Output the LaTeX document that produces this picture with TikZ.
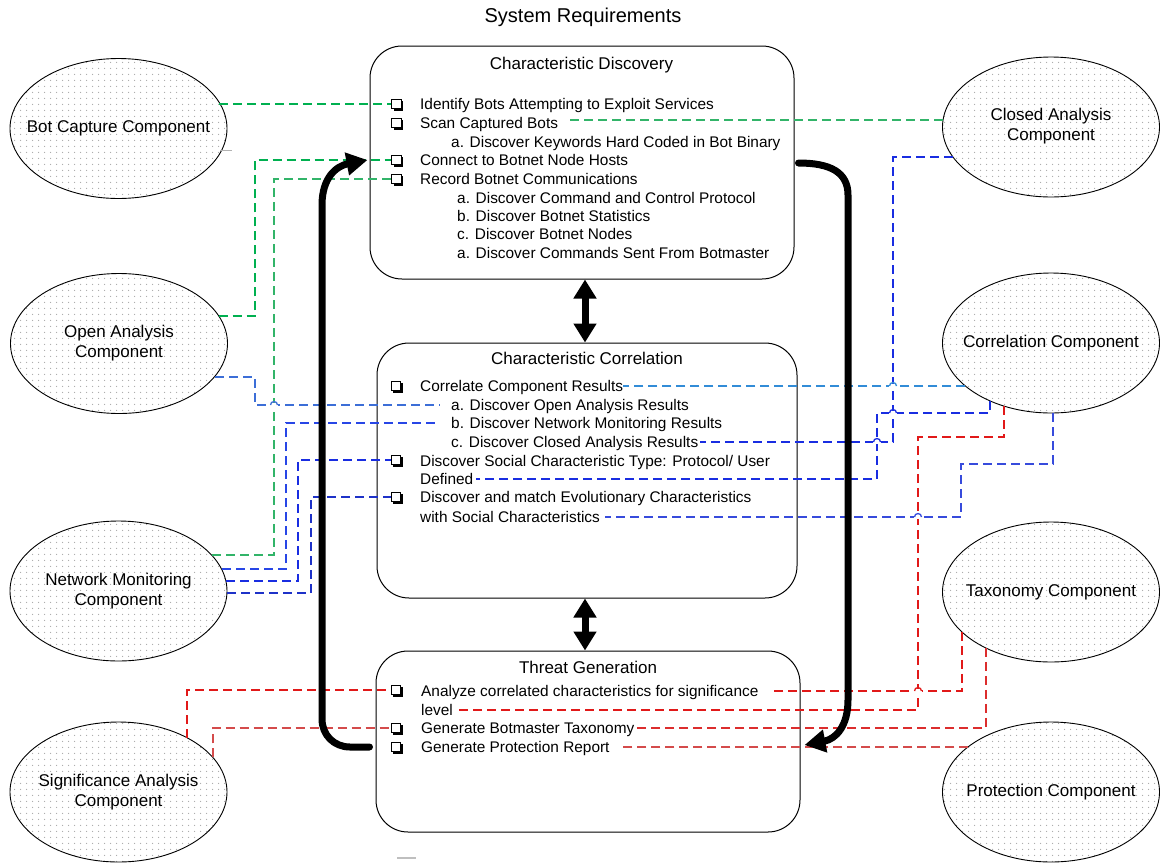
\documentclass[tikz,border=0pt]{standalone}
\usepackage{fontspec}
\setmainfont{Liberation Sans}
\usetikzlibrary{arrows.meta,shapes.geometric,shadows,patterns.meta,calc}

% sparse grey stipple used inside the component ellipses
\tikzdeclarepattern{
  name=stipple,
  type=uncolored,
  bottom left={(0pt,0pt)},
  top right={(6pt,6pt)},
  tile size={(6pt,6pt)},
  code={\fill (3pt,3pt) circle (0.75pt);}
}

\definecolor{gA}{RGB}{0,176,80}
\definecolor{gB}{RGB}{50,180,105}
\definecolor{bA}{RGB}{60,110,215}
\definecolor{bB}{RGB}{40,70,230}
\definecolor{bC}{RGB}{25,45,225}
\definecolor{bD}{RGB}{30,50,200}
\definecolor{bE}{RGB}{50,140,215}
\definecolor{bF}{RGB}{55,75,220}
\definecolor{rA}{RGB}{225,25,25}
\definecolor{rB}{RGB}{220,45,45}
\definecolor{rC}{RGB}{212,75,75}

% small bridge where a horizontal link jumps over a vertical one
\newcommand\hopover[2]{%
  \fill[white] ($#1+(-3.8,-1.7)$) rectangle ($#1+(3.8,1.7)$);
  \draw[#2, line width=1.3pt] ($#1+(-3.5,0)$) arc[start angle=180, end angle=0, radius=3.5pt];}

\begin{document}
\begin{tikzpicture}[x=1pt,y=-1pt,
  comp/.style={ellipse, draw, line width=0.9pt, minimum width=217pt, minimum height=140pt,
    inner sep=0pt, pattern=stipple, pattern color=black!35},
  complabel/.style={align=center, inner sep=0pt, font=\fontsize{17pt}{20pt}\selectfont},
  stage/.style={draw, rounded corners=32pt, line width=1pt, inner sep=0pt},
  stagetitle/.style={inner sep=0pt, font=\fontsize{17pt}{20pt}\selectfont, text height=12.2pt, text depth=0pt},
  heading/.style={inner sep=0pt, font=\fontsize{20pt}{24pt}\selectfont, text height=14.3pt, text depth=0pt},
  item/.style={anchor=west, inner sep=0pt, font=\fontsize{15.4pt}{18.5pt}\selectfont, text height=11pt, text depth=0pt},
  chk/.style={draw, fill=white, minimum size=9.5pt, inner sep=0pt, line width=1pt,
    drop shadow={shadow xshift=2pt, shadow yshift=-2pt, opacity=1, fill=black}},
  link/.style={line width=1.6pt, dash pattern=on 9pt off 5pt},
  loop/.style={line width=7pt, line cap=round, -{Triangle[length=21pt, width=22pt]}},
  twoway/.style={line width=7pt, {Triangle[length=19pt, width=22pt]}-{Triangle[length=19pt, width=22pt]}}
]
\fill[white] (0,0) rectangle (1160,863);
\useasboundingbox (0,0) rectangle (1160,863);

\node[heading] (head) at (583,15) {System Requirements};

% the three stages
\node[stage, minimum width=424pt, minimum height=233pt] (b1) at (582,162.5) {};
\node[stage, minimum width=420pt, minimum height=255pt] (b2) at (587,470.5) {};
\node[stage, minimum width=424pt, minimum height=181pt] (b3) at (588,741.5) {};
\node[stagetitle] (bt1) at (581.5,63) {Characteristic Discovery};
\node[stagetitle] (bt2) at (587,358) {Characteristic Correlation};
\node[stagetitle] (bt3) at (588,667) {Threat Generation};

% components
\node[comp] (bc) at (118.5,128.5) {};
\node[comp] (oa) at (119,343.5) {};
\node[comp] (nm) at (118.5,591) {};
\node[comp] (sa) at (118.5,792) {};
\node[comp] (ca) at (1051,127) {};
\node[comp] (cc) at (1051,343) {};
\node[comp] (tc) at (1051,592) {};
\node[comp] (pc) at (1051,792) {};
\node[complabel] (bcl) at (bc) {Bot Capture Component};
\node[complabel] (oal) at (oa) {Open Analysis\\Component};
\node[complabel] (nml) at (nm) {Network Monitoring\\Component};
\node[complabel] (sal) at (sa) {Significance Analysis\\Component};
\node[complabel] (cal) at (1051,126) {Closed Analysis\\Component};
\node[complabel] (ccl) at (cc) {Correlation Component};
\node[complabel] (tcl) at (tc) {Taxonomy Component};
\node[complabel] (pcl) at (pc) {Protection Component};

% Characteristic Discovery items
\node[chk] (c1) at (396.5,104) {};
\node[item] (t1) at (420,104) {Identify Bots Attempting to Exploit Services};
\node[chk] (c2) at (396.5,123) {};
\node[item] (t2) at (420,123) {Scan Captured Bots};
\node[item] (t2a) at (451,142) {a. Discover Keywords Hard Coded in Bot Binary};
\node[chk] (c3) at (396.5,160) {};
\node[item] (t3) at (420,160) {Connect to Botnet Node Hosts};
\node[chk] (c4) at (396.5,179) {};
\node[item] (t4) at (420,179) {Record Botnet Communications};
\node[item] (t4a) at (457,198) {a. Discover Command and Control Protocol};
\node[item] (t4b) at (457,216) {b. Discover Botnet Statistics};
\node[item] (t4c) at (457,234) {c. Discover Botnet Nodes};
\node[item] (t4d) at (457,253) {a. Discover Commands Sent From Botmaster};

% Characteristic Correlation items
\node[chk] (c5) at (396,386) {};
\node[item] (t5) at (420,386) {Correlate Component Results};
\node[item] (t5a) at (451,405) {a. Discover Open Analysis Results};
\node[item] (t5b) at (451,423) {b. Discover Network Monitoring Results};
\node[item] (t5c) at (451,442) {c. Discover Closed Analysis Results};
\node[chk] (c6) at (396,460) {};
\node[item] (t6) at (420,461) {Discover Social Characteristic Type: Protocol/ User};
\node[item] (t6b) at (420,479) {Defined};
\node[chk] (c7) at (396,497) {};
\node[item] (t7) at (420,497) {Discover and match Evolutionary Characteristics};
\node[item] (t7b) at (420,517) {with Social Characteristics};

% Threat Generation items
\node[chk] (c8) at (396,690) {};
\node[item] (t8) at (421,691) {Analyze correlated characteristics for significance};
\node[item] (t8b) at (421,710) {level};
\node[chk] (c9) at (396,728) {};
\node[item] (t9) at (421,728) {Generate Botmaster Taxonomy};
\node[chk] (c10) at (396,747) {};
\node[item] (t10) at (421,747) {Generate Protection Report};

% links from the left-hand components
\draw[link, draw=gA] (bc.15 |- c1.west) -- (c1.west);
\draw[link, draw=gA] (oa.16 |- 0,316) -| (255,200) |- (c3.west);
\draw[link, draw=gB] (nm.21 |- 0,555) -| (274,300) |- (c4.west);
\draw[link, draw=bA, shorten >=11pt] (oa.-19 |- 0,377) -| (255,390) |- (t5a.west);
\draw[link, draw=bB, shorten >=13pt] (nm.12 |- 0,569) -| (286,500) |- (t5b.west);
\draw[link, draw=bC] (nm.5 |- 0,581) -| (298,500) |- (c6.west);
\draw[link, draw=bD] (nm.-1 |- 0,593) -| (311,550) |- (c7.west);
\draw[link, draw=rA] (187,0 |- sa.38) |- (c8.west);
\draw[link, draw=rC] (213,0 |- sa.20) |- (c9.west);

% links from the right-hand components
\draw[link, draw=gB, shorten >=7pt] (ca.176 |- 0,120) -- (t2.east |- 0,120);
\draw[link, draw=bC, shorten >=2pt] (ca.197 |- 0,157) -| (893,300) |- (t5c.east);
\draw[link, draw=bE] (cc.207 |- t5.east) -- (t5.east);
\draw[link, draw=bC, shorten >=3pt] (990,0 |- cc.223) |- (877,413) |- (t6b.east);
\draw[link, draw=bF, shorten >=5pt] (1053,0 |- cc.272) |- (961,464) |- (t7b.east);
\draw[link, draw=rA, shorten >=4pt] (1004,0 |- cc.233) |- (918,437) |- (t8b.east);
\draw[link, draw=rA, shorten >=11pt] (962,0 |- tc.204) |- (t8.east);
\draw[link, draw=rB, shorten >=1pt] (986,0 |- tc.220) |- (t9.east);
\draw[link, draw=rC, shorten >=9pt] (pc.151 |- t10.east) -- (t10.east);

% line jumps
\hopover{(274,0 |- t5a.west)}{bA}
\hopover{(893,0 |- t5.west)}{bE}
\hopover{(893,413)}{bC}
\hopover{(877,0 |- t5c.west)}{bC}
\hopover{(918,0 |- t7b.west)}{bF}
\hopover{(918,0 |- t8.west)}{rA}

% stray marks
\draw[black!30, line width=1pt] (220,150) -- (232,150);
\draw[black!25, line width=2pt] (397,858) -- (416,858);

% feedback loop and stage-to-stage arrows
\draw[loop] ($(b3.west |- c10.west)+(-6,0)$) -- (350,747)
  .. controls (334,747) and (322,735) .. (322,719) -- (322,205)
  .. controls (322,178) and (336,166) .. ($(b1.west |- c3.west)+(-2,0)$);
\draw[loop] ($(b1.east |- c3.west)+(4,3)$) .. controls (830,163) and (848,172) .. (848,195)
  -- (848,700) .. controls (848,726) and (836,739) .. ($(b3.east |- c10.west)+(4,-2)$);
\draw[twoway] ([xshift=3pt]b1.south) -- ([xshift=-2pt]b2.north);
\draw[twoway] ([xshift=-2pt]b2.south) -- ([xshift=-3pt]b3.north);
\end{tikzpicture}
\end{document}
